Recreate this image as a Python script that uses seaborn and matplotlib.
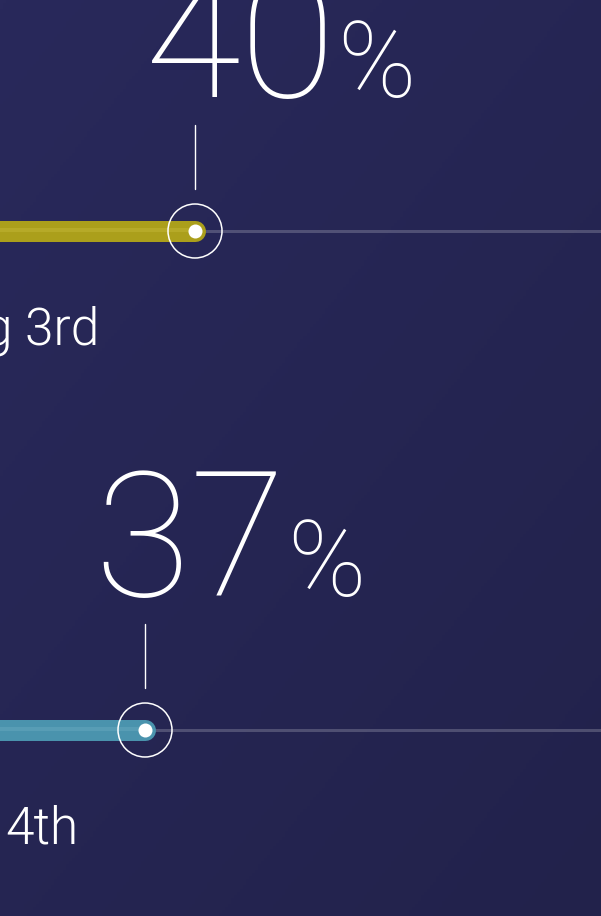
import numpy as np
import pandas as pd
import seaborn as sns
import matplotlib.pyplot as plt
from matplotlib.colors import LinearSegmentedColormap

# data
labels = ["g 3rd", "4th"]
values = [40, 37]
bar_colors = ["#ab9f1b", "#4a93ad"]
stripe_colors = ["#c4b938", "#6aaac0"]

df = pd.DataFrame({"label": labels, "value": values,
                   "row": np.arange(len(labels))})

sns.set_theme(style="white")
plt.rcParams["font.family"] = ["Roboto", "DejaVu Sans"]

W, H = 601, 916
fig = plt.figure(figsize=(W / 100, H / 100), dpi=100)
ax = fig.add_axes([0, 0, 1, 1])

# axis maps: 3 points = 50 px, 40% sits at px 195
px_per_pt = 50 / 3
x0 = 40 - 195 / px_per_pt
x1 = x0 + W / px_per_pt
ax.set_xlim(x0, x1)
ax.set_ylim(H, 0)  # y in pixel rows
ax.axis("off")

# background gradient
bg = LinearSegmentedColormap.from_list("bg", ["#29295b", "#22224b"])
gx, gy = np.meshgrid(np.linspace(0, 1, 200), np.linspace(0, 1, 300))
ax.imshow(0.45 * gx + 0.55 * gy, cmap=bg, extent=[x0, x1, H, 0],
          aspect="auto", zorder=0)

row_y = 231 + 499 * df["row"]
df["y"] = row_y
lw_bar = 21 * 0.72

for _, r in df.iterrows():
    i = int(r["row"])
    y = r["y"]
    v = r["value"]
    # track
    ax.plot([v, x1 + 1], [y, y], color="white", alpha=0.2, lw=3 * 0.72,
            zorder=1, solid_capstyle="butt")
    # bar
    ax.plot([x0 - 2, v], [y, y], color=bar_colors[i], lw=lw_bar,
            solid_capstyle="round", zorder=2)
    ax.plot([x0 - 2, v - 0.3], [y - 1, y - 1], color=stripe_colors[i],
            alpha=0.45, lw=4 * 0.72, solid_capstyle="butt", zorder=3)
    # connector
    ax.plot([v, v], [y - 106, y - 42], color="white", lw=1.0, zorder=3)
    # number and percent
    ax.annotate(f"{v:.0f}", (v, y), xytext=(141 * 0.72, 134 * 0.72),
                textcoords="offset points", ha="right", va="baseline",
                color="white", fontsize=126, fontweight=100, zorder=5)
    ax.annotate("%", (v, y), xytext=(142 * 0.72, 134 * 0.72),
                textcoords="offset points", ha="left", va="baseline",
                color="white", fontsize=76, fontweight=100, zorder=5)

# rings and dots
sns.scatterplot(data=df, x="value", y="y", s=(54 * 0.72) ** 2, marker="o",
                facecolor="none", edgecolor="white", linewidth=1.1,
                ax=ax, zorder=6, legend=False)
sns.scatterplot(data=df, x="value", y="y", s=(14 * 0.72) ** 2, marker="o",
                color="white", linewidth=0, ax=ax, zorder=7, legend=False)

# labels
label_x = [-16, 5]
for i, r in df.iterrows():
    ax.text(x0 + label_x[i] / px_per_pt, r["y"] + 114, r["label"],
            ha="left", va="baseline", color="white", fontsize=37,
            fontweight=300, zorder=5)

fig.savefig("out.png", dpi=100)
